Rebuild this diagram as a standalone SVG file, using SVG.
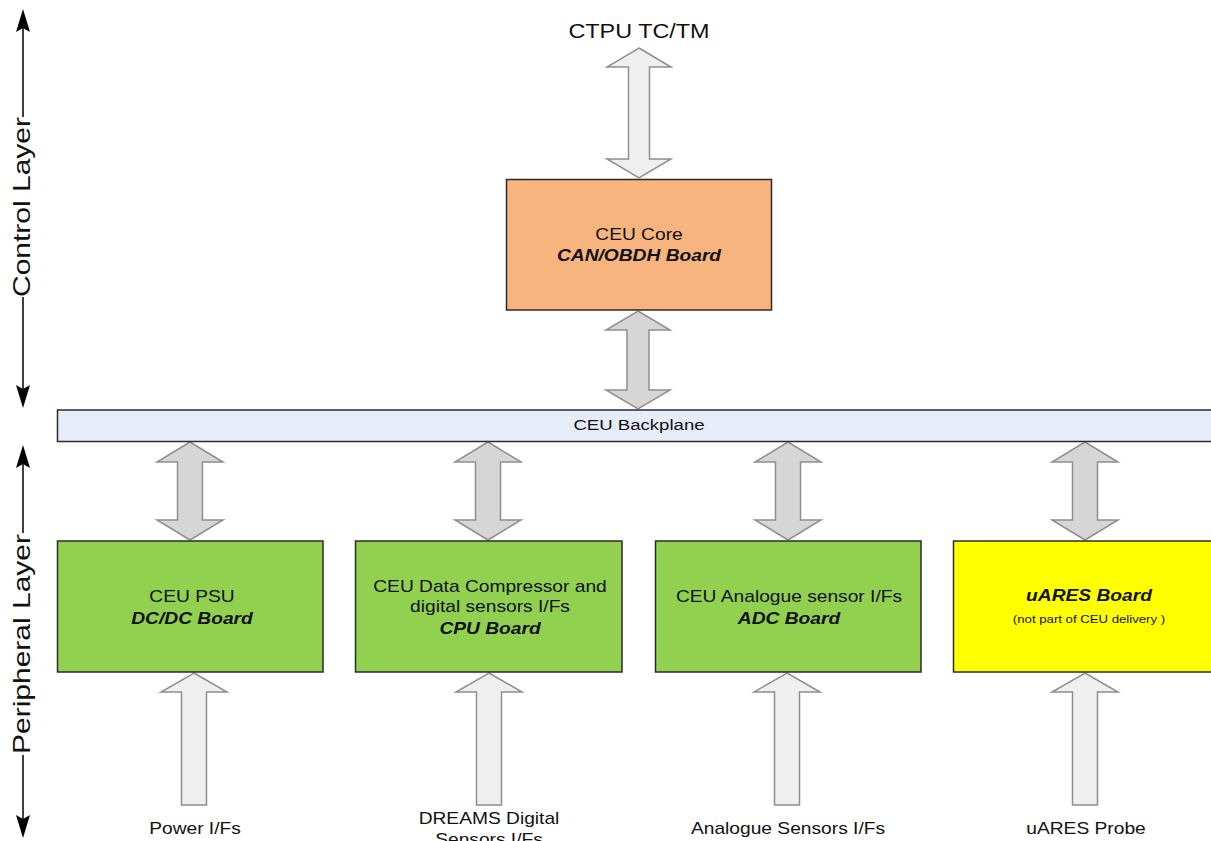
<svg xmlns="http://www.w3.org/2000/svg" width="1211" height="841" viewBox="0 0 1211 841">
<style>
text{font-family:"Liberation Sans",Arial,sans-serif;fill:#111;}
.box{stroke:#2b2b2b;stroke-width:1.5;}
.t16{font-size:16px;text-anchor:middle;}
.bi{font-size:16px;font-weight:bold;font-style:italic;text-anchor:middle;}
.lbl{font-size:16px;text-anchor:middle;}
.ba-l{fill:#efefef;stroke:#8f8f8f;stroke-width:1.5;stroke-linejoin:miter;}
.ba-d{fill:#d6d6d6;stroke:#8f8f8f;stroke-width:1.5;stroke-linejoin:miter;}
.axis{stroke:#000;stroke-width:1.5;fill:none;}
.head{fill:#000;}
.layer{font-size:24px;text-anchor:middle;}
</style>
<rect width="1211" height="841" fill="#fff"/>

<g id="control-layer">
<line class="axis" x1="23" y1="26" x2="23" y2="117"/>
<line class="axis" x1="23" y1="297" x2="23" y2="392"/>
<path class="head" d="M23,9 L30,32 L23,28 L16,32 Z"/>
<path class="head" d="M23,408 L30,385 L23,389 L16,385 Z"/>
<text class="layer" transform="translate(30,207) rotate(-90) scale(1.25,1)">Control Layer</text>
</g>

<g id="peripheral-layer">
<line class="axis" x1="23" y1="462" x2="23" y2="533"/>
<line class="axis" x1="23" y1="755" x2="23" y2="821"/>
<path class="head" d="M23,445 L30,468 L23,464 L16,468 Z"/>
<path class="head" d="M23,838 L30,815 L23,819 L16,815 Z"/>
<text class="layer" transform="translate(30,644) rotate(-90) scale(1.25,1)">Peripheral Layer</text>
</g>

<g id="connectors">
<polygon class="ba-l" points="639,48 671,67 649.5,67 649.5,159 671,159 639,178 607,159 628.5,159 628.5,67 607,67"/>
<polygon class="ba-d" points="638,311 670,330 649,330 649,390 670,390 638,409 606,390 627,390 627,330 606,330"/>
<polygon class="ba-d" points="190,442 223,462 202.5,462 202.5,520 223,520 190,540 157,520 177.5,520 177.5,462 157,462"/>
<polygon class="ba-d" points="488,442 521,462 500.5,462 500.5,520 521,520 488,540 455,520 475.5,520 475.5,462 455,462"/>
<polygon class="ba-d" points="788,442 821,462 800.5,462 800.5,520 821,520 788,540 755,520 775.5,520 775.5,462 755,462"/>
<polygon class="ba-d" points="1085,442 1118,462 1097.5,462 1097.5,520 1118,520 1085,540 1052,520 1072.5,520 1072.5,462 1052,462"/>
<polygon class="ba-l" points="194,673 227,692 206.5,692 206.5,805 181.5,805 181.5,692 161,692"/>
<polygon class="ba-l" points="489,673 522,692 501.5,692 501.5,805 476.5,805 476.5,692 456,692"/>
<polygon class="ba-l" points="787,673 820,692 799.5,692 799.5,805 774.5,805 774.5,692 754,692"/>
<polygon class="ba-l" points="1085,673 1118,692 1097.5,692 1097.5,805 1072.5,805 1072.5,692 1052,692"/>
</g>

<g id="ctpu-label">
<text transform="translate(639,38) scale(1.2,1)" style="font-size:19.5px;text-anchor:middle;">CTPU TC/TM</text>
</g>

<g id="ceu-core">
<rect class="box" x="506.5" y="179.5" width="265" height="130.5" fill="#f7b47e"/>
<g transform="translate(639,0) scale(1.2,1)">
<text class="t16" x="0" y="240">CEU Core</text>
<text class="bi" x="0" y="261">CAN/OBDH Board</text>
</g>
</g>

<g id="backplane">
<rect class="box" x="57.5" y="410" width="1160" height="31.5" fill="#e6ecf8"/>
<text transform="translate(639,430) scale(1.2,1)" style="font-size:15.5px;text-anchor:middle;">CEU Backplane</text>
</g>

<g id="psu">
<rect class="box" x="57.5" y="541" width="265.5" height="131" fill="#92d050"/>
<g transform="translate(192,0) scale(1.2,1)">
<text class="t16" x="0" y="602">CEU PSU</text>
<text class="bi" x="0" y="624">DC/DC Board</text>
</g>
</g>

<g id="cpu">
<rect class="box" x="355.5" y="541" width="266.5" height="131" fill="#92d050"/>
<g transform="translate(490,0) scale(1.2,1)">
<text class="t16" x="0" y="592">CEU Data Compressor and</text>
<text class="t16" x="0" y="612">digital sensors I/Fs</text>
<text class="bi" x="0" y="634">CPU Board</text>
</g>
</g>

<g id="adc">
<rect class="box" x="655.5" y="541" width="265.5" height="131" fill="#92d050"/>
<g transform="translate(789,0) scale(1.2,1)">
<text class="t16" x="0" y="602">CEU Analogue sensor I/Fs</text>
<text class="bi" x="0" y="624">ADC Board</text>
</g>
</g>

<g id="uares">
<rect class="box" x="953.5" y="541" width="265" height="131" fill="#ffff00"/>
<g transform="translate(1089,0) scale(1.2,1)">
<text class="bi" x="0" y="601">uARES Board</text>
<text x="0" y="623" style="font-size:11px;text-anchor:middle;">(not part of CEU delivery  )</text>
</g>
</g>

<g id="labels">
<text class="lbl" transform="translate(195,834) scale(1.2,1)">Power I/Fs</text>
<text class="lbl" transform="translate(489,824) scale(1.2,1)">DREAMS Digital</text>
<text class="lbl" transform="translate(489,845) scale(1.2,1)">Sensors I/Fs</text>
<text class="lbl" transform="translate(788,834) scale(1.2,1)">Analogue Sensors I/Fs</text>
<text class="lbl" transform="translate(1086,834) scale(1.2,1)">uARES Probe</text>
</g>
</svg>
